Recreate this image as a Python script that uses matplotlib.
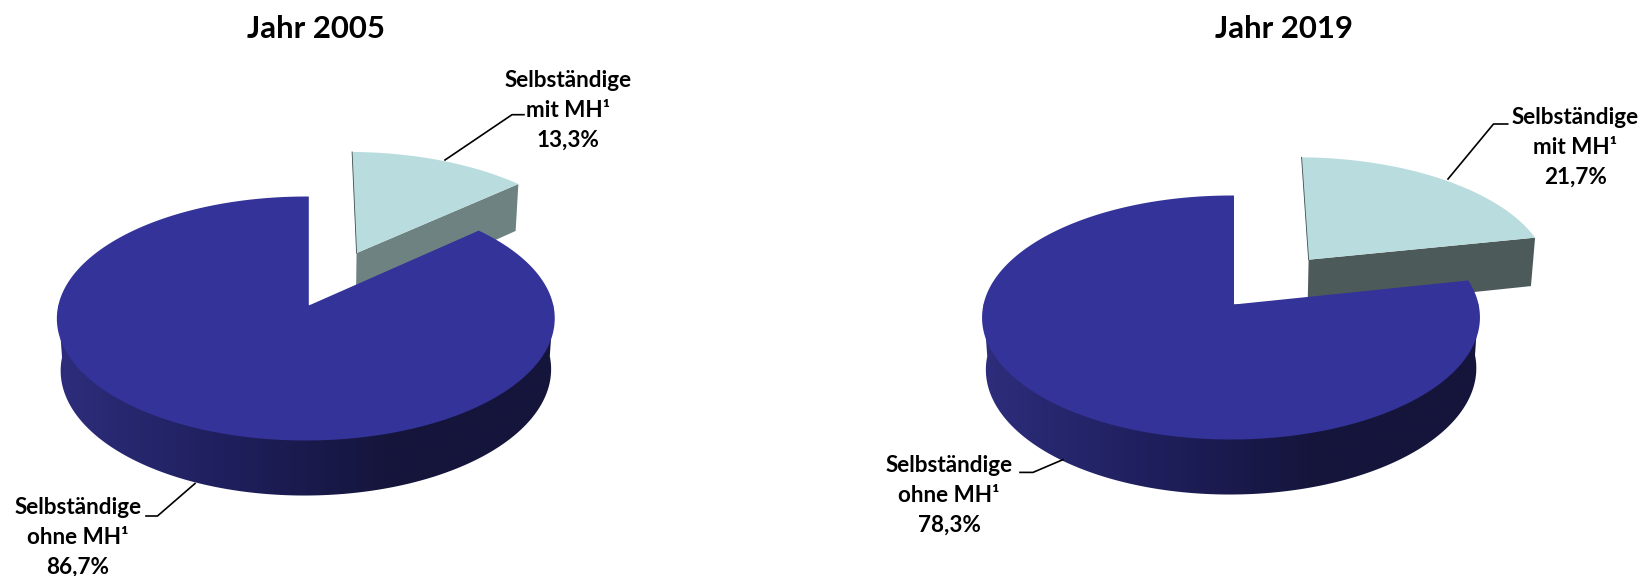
import numpy as np
import matplotlib
matplotlib.use('Agg')
import matplotlib.pyplot as plt
from matplotlib.colors import LinearSegmentedColormap
from matplotlib.patches import Polygon

years = ['Jahr 2005', 'Jahr 2019']
share_mit_mh = [13.3, 21.7]
share_ohne_mh = [86.7, 78.3]

plt.rcParams['font.family'] = ['Lato', 'DejaVu Sans']

TOP = '#333399'
SLICE = '#b9dcde'
SLICE_WALL = ['#6e8282', '#4d5a5a']
wall_cmap = LinearSegmentedColormap.from_list('wall', ['#2d2d7c', '#1f1f5e', '#15153c', '#15153c'])

# perspective of the pie, all in pixels of the 1638x576 picture
RX, RY, KY, KX, KZ, DEPTH = 247.5, 120.6, 0.1066, 0.012, 0.015, 52
EXPLODE = 0.5
SLICE_SCALE = 1.02


def project(x, y, z, cx, cy):
    den = 1 + KY * y + KX * x + KZ * z
    return cx + RX * x / den, cy + (-RY * y + DEPTH * z) / den


def rim(a0, a1, ox=0, oy=0, r=1, n=200):
    # angles clockwise from 12 o'clock
    a = np.radians(np.linspace(a0, a1, n))
    return ox + r * np.sin(a), oy + r * np.cos(a)


def draw_pie(ax, title, mit, ohne, cx, cy, title_x, labels):
    split = 360 * mit / (mit + ohne)
    mid = np.radians(split / 2)
    ox, oy = EXPLODE * np.sin(mid), EXPLODE * np.cos(mid)

    # pulled out slice: end wall, then top
    xr, yr = rim(0, split, ox, oy, SLICE_SCALE)
    wall = [project(ox, oy, 0, cx, cy), project(xr[-1], yr[-1], 0, cx, cy),
            project(xr[-1], yr[-1], 1, cx, cy), project(ox, oy, 1, cx, cy)]
    ax.add_patch(Polygon(wall, fc=SLICE_WALL[labels['wall']], ec='none'))
    top_x, top_y = project(np.r_[ox, xr], np.r_[oy, yr], 0, cx, cy)
    ax.fill(top_x, top_y, fc=SLICE, ec='none')
    ax.plot(top_x[:2], top_y[:2], color='#3c4c4c', lw=0.6)

    # side wall of the big slice, gradient clipped to its outline
    xr, yr = rim(90, 270)
    fx, fy = project(xr, yr, 0, cx, cy)
    bx, by = project(xr, yr, 1, cx, cy)
    # upper edge runs under the top face so no seam shows along the rim
    outline = Polygon(np.c_[np.r_[fx[0], bx, fx[-1]], np.r_[fy[0], by, fy[-1]]], transform=ax.transData)
    grad = np.linspace(0, 1, 256).reshape(1, -1)
    im = ax.imshow(grad, cmap=wall_cmap, aspect='auto', zorder=2,
                   extent=[bx.min() - 4, bx.max() + 4, by.max() + 4, fy.min() - 4])
    im.set_clip_path(outline)

    # top of the big slice
    xr, yr = rim(split, 360)
    top_x, top_y = project(np.r_[0, xr], np.r_[0, yr], 0, cx, cy)
    ax.fill(top_x, top_y, fc=TOP, ec='none', zorder=3)

    ax.text(title_x, 29.5, title, ha='center', va='center', fontsize=22.4, fontweight='bold')
    for name, value, key in (('mit', mit, 'mit'), ('ohne', ohne, 'ohne')):
        tx, ty = labels[key]['text']
        text = 'Selbständige\n%s MH¹\n%s%%' % (name, ('%.1f' % value).replace('.', ','))
        ax.text(tx, ty, text, ha='center', va='center', fontsize=16.2, fontweight='bold',
                linespacing=1.52, zorder=5)
        line = np.array(labels[key]['leader'])
        ax.plot(line[:, 0], line[:, 1], color='black', lw=1.2, zorder=5)


fig = plt.figure(figsize=(16.38, 5.76), dpi=100)

label_pos = [
    {'wall': 0,
     'mit': {'text': (568, 110.5), 'leader': [(524, 114.7), (512, 114.7), (445, 160)]},
     'ohne': {'text': (77.7, 537), 'leader': [(146, 516), (157.5, 516), (195, 483.5)]}},
    {'wall': 1,
     'mit': {'text': (1575.4, 147.5), 'leader': [(1507.7, 124), (1493.5, 124), (1448, 179)]},
     'ohne': {'text': (949, 495), 'leader': [(1020, 472.4), (1033, 472.4), (1063, 459.6)]}},
]
centers = [(308.8, 305.5), (1234, 304.5)]
title_xs = [316, 1284]
limits = [(0, 819), (819, 1638)]

for i in range(2):
    ax = fig.add_axes([i * 0.5, 0, 0.5, 1])
    ax.set_axis_off()
    ax.patch.set_alpha(0)
    draw_pie(ax, years[i], share_mit_mh[i], share_ohne_mh[i], centers[i][0], centers[i][1],
             title_xs[i], label_pos[i])
    ax.set_xlim(*limits[i])
    ax.set_ylim(576, 0)

fig.savefig('out.png', dpi=100)
